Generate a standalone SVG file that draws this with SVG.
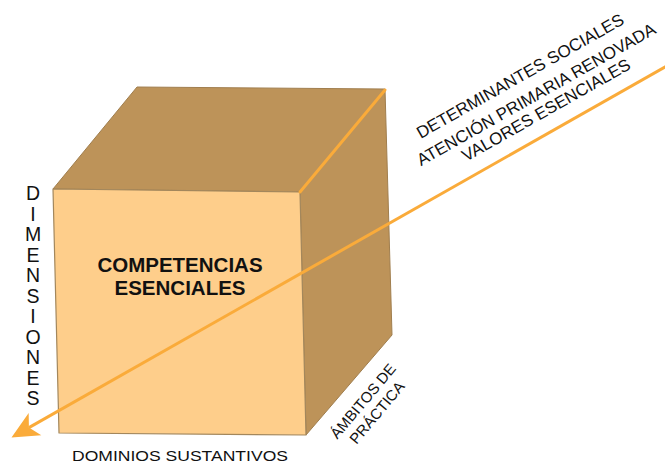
<svg xmlns="http://www.w3.org/2000/svg" width="665" height="466" viewBox="0 0 665 466">
<style>
.face-dark{fill:#BD9359;stroke:#A07E4E;stroke-width:1;stroke-linejoin:round}
.face-front{fill:#FECE8B;stroke:#A3875C;stroke-width:1.2;stroke-linejoin:round}
.lbl{font-family:"Liberation Sans",Arial,sans-serif;fill:#111;}
.title{font-family:"Liberation Sans",Arial,sans-serif;font-weight:bold;font-size:20.5px;fill:#111;text-anchor:middle}
.orange{stroke:#FAAB3A;stroke-width:3;fill:none;stroke-linecap:round}
</style>
<defs>
<marker id="ah" markerUnits="userSpaceOnUse" orient="auto" refX="0" refY="0" markerWidth="40" markerHeight="40" overflow="visible">
<path d="M20,0 L-7,-12.8 L0,0 L-7,12.8 Z" fill="#FAAB3A"/>
</marker>
</defs>
<rect width="665" height="466" fill="#fff"/>
<g id="cube">
<polygon class="face-dark" points="53,189 137,87 385,89 300,192"/>
<polygon class="face-dark" points="300,192 385,89 392,335 306,435"/>
<polygon class="face-front" points="53,189 300,192 306,435 59,433"/>
<line class="orange" x1="385" y1="90" x2="300" y2="192"/>
<text class="title" x="180" y="272">COMPETENCIAS</text>
<text class="title" x="180" y="295">ESENCIALES</text>
</g>
<g id="connectors">
<line class="orange" x1="668" y1="65.3" x2="28.9" y2="427.6" marker-end="url(#ah)" style="stroke-linecap:butt"/>
</g>
<g id="label-dimensiones" class="lbl" font-size="19.5" text-anchor="middle">
<text x="33" y="200">D</text>
<text x="33" y="220.5">I</text>
<text x="33" y="241">M</text>
<text x="33" y="261.5">E</text>
<text x="33" y="282">N</text>
<text x="33" y="302.5">S</text>
<text x="33" y="323">I</text>
<text x="33" y="343.5">O</text>
<text x="33" y="364">N</text>
<text x="33" y="384.5">E</text>
<text x="33" y="405">S</text>
</g>
<g id="label-dominios">
<text class="lbl" x="72" y="461" font-size="14.5" textLength="216" lengthAdjust="spacingAndGlyphs">DOMINIOS SUSTANTIVOS</text>
</g>
<g id="label-ambitos" class="lbl" font-size="15" text-anchor="middle">
<text transform="translate(367,404.5) rotate(-50)">ÁMBITOS DE</text>
<text transform="translate(381,416) rotate(-50)">PRÁCTICA</text>
</g>
<g id="label-ejes" class="lbl" font-size="17" text-anchor="middle">
<text transform="translate(523,81) rotate(-29.5)">DETERMINANTES SOCIALES</text>
<text transform="translate(539,99.5) rotate(-29.5)">ATENCIÓN PRIMARIA RENOVADA</text>
<text transform="translate(549,115) rotate(-29.5)">VALORES ESENCIALES</text>
</g>
</svg>
